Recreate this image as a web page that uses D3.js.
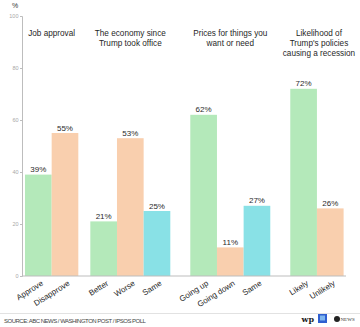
<!DOCTYPE html>
<html>
<head>
<meta charset="utf-8">
<script src="https://cdn.jsdelivr.net/npm/d3@7"></script>
<style>
  html, body { margin: 0; padding: 0; background: #fff; }
  svg { display: block; font-family: "Liberation Sans", Arial, sans-serif; }
</style>
</head>
<body>
<svg id="chart" width="360" height="327"></svg>
<script>
// ---- data ----
const groupTitles = [
  ["Job approval"],
  ["The economy since", "Trump took office"],
  ["Prices for things you", "want or need"],
  ["Likelihood of", "Trump's policies", "causing a recession"]
];
const categories = [
  ["Approve", "Disapprove"],
  ["Better", "Worse", "Same"],
  ["Going up", "Going down", "Same"],
  ["Likely", "Unlikely"]
];
const values = [
  [39, 55],
  [21, 53, 25],
  [62, 11, 27],
  [72, 26]
];
const yTicks = [0, 20, 40, 60, 80, 100];
const sourceText = "SOURCE: ABC NEWS / WASHINGTON POST / IPSOS POLL";

// ---- layout ----
const W = 360, H = 327;
const colors = ["#b4e9ba", "#f9cfae", "#89e1e6"];
const groupGaps = [0.45, 0.75, 0.75];

const svg = d3.select("#chart");

// build flat bar list with slot positions
const bars = [];
let slot = 0;
const groupSpans = [];
categories.forEach((cats, g) => {
  if (g > 0) slot += groupGaps[g - 1];
  const start = slot;
  cats.forEach((c, i) => {
    bars.push({ g, i, cat: c, value: values[g][i], slot });
    slot += 1;
  });
  groupSpans.push([start, slot]);
});
const totalSlots = slot;

const x = d3.scaleLinear().domain([0, totalSlots]).range([25, 343.6]);
const bw = x(1) - x(0);
const y = d3.scaleLinear().domain([0, 100]).range([276, 16]);

// y axis
const yAxis = d3.axisLeft(y).tickValues(yTicks).tickSize(2).tickPadding(1.5);
const yg = svg.append("g").attr("transform", "translate(22,0)").call(yAxis);
yg.select(".domain").attr("stroke", "#bdbdbd").attr("stroke-width", 1);
yg.selectAll(".tick line").attr("stroke", "#bdbdbd");
yg.selectAll(".tick text").attr("fill", "#a8a8a8").style("font-size", "5.5px")
  .style("font-family", "'Liberation Sans', Arial, sans-serif");

svg.append("text").attr("x", 15).attr("y", 7.5).attr("text-anchor", "middle")
  .attr("fill", "#333").style("font-size", "7px").text("%");

// bars
svg.append("g").selectAll("rect").data(bars).join("rect")
  .attr("x", d => x(d.slot))
  .attr("width", bw)
  .attr("y", d => y(d.value))
  .attr("height", d => y(0) - y(d.value))
  .attr("fill", d => colors[d.i]);

// baseline
svg.append("line").attr("x1", 22).attr("x2", 346).attr("y1", y(0)).attr("y2", y(0))
  .attr("stroke", "#bdbdbd").attr("stroke-width", 1);

// value labels
svg.append("g").selectAll("text").data(bars).join("text")
  .attr("x", d => x(d.slot) + bw / 2)
  .attr("y", d => y(d.value) - 2.5)
  .attr("text-anchor", "middle")
  .attr("fill", "#2a2a2a")
  .style("font-size", "8px")
  .text(d => d.value + "%");

// category labels (rotated)
svg.append("g").selectAll("text").data(bars).join("text")
  .attr("transform", d => `translate(${x(d.slot) + bw / 2 + 3},${y(0) + 5}) rotate(-32)`)
  .attr("text-anchor", "end")
  .attr("dy", "0.55em")
  .attr("fill", "#2a2a2a")
  .style("font-size", "8px")
  .text(d => d.cat);

// group titles
groupTitles.forEach((lines, g) => {
  const cx = (x(groupSpans[g][0]) + x(groupSpans[g][1])) / 2 + (g === 3 ? 2 : 0);
  const t = svg.append("text").attr("text-anchor", "middle").attr("fill", "#1f1f1f")
    .style("font-size", "8.2px");
  lines.forEach((ln, k) => {
    t.append("tspan").attr("x", cx).attr("y", 36 + k * 9.8).text(ln);
  });
});

// footer separator
svg.append("line").attr("x1", 0).attr("x2", W).attr("y1", 313.5).attr("y2", 313.5)
  .attr("stroke", "#e2e2e2").attr("stroke-width", 1);

svg.append("text").attr("x", 4).attr("y", 322.5).attr("fill", "#444")
  .style("font-size", "6px").style("letter-spacing", "-0.5px").text(sourceText);

// logos
const logos = svg.append("g");
logos.append("text").attr("x", 301.5).attr("y", 321.5)
  .style("font-family", "'DejaVu Serif', serif").style("font-size", "8px")
  .style("font-weight", "bold").attr("fill", "#222").text("wp");
logos.append("rect").attr("x", 318).attr("y", 314).attr("width", 9).attr("height", 9)
  .attr("fill", "#2f5fd0");
logos.append("rect").attr("x", 320).attr("y", 315.5).attr("width", 5).attr("height", 5)
  .attr("fill", "#7fb6ee");
logos.append("circle").attr("cx", 337).attr("cy", 319).attr("r", 3)
  .attr("fill", "#222");
logos.append("text").attr("x", 340.5).attr("y", 321)
  .style("font-family", "'Liberation Serif', serif").style("font-size", "5px")
  .attr("fill", "#333").text("NEWS");
</script>
</body>
</html>
